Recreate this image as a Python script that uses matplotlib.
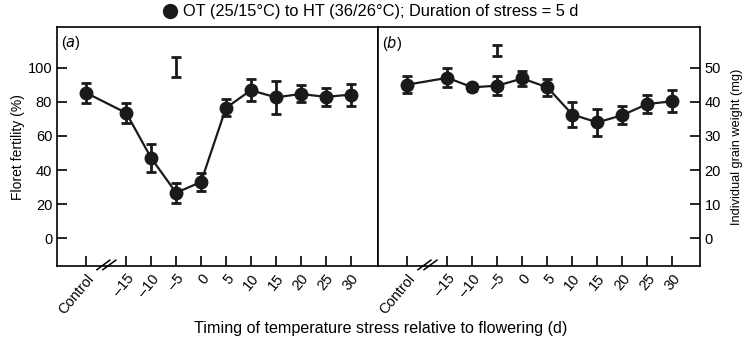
import numpy as np
import matplotlib.pyplot as plt
from matplotlib.lines import Line2D

plt.rcParams['font.family'] = ['Liberation Sans', 'DejaVu Sans']
plt.rcParams['font.size'] = 10.5

# x positions (days relative to flowering); control drawn left of axis break
x_pos = [-23, -15, -10, -5, 0, 5, 10, 15, 20, 25, 30]
x_labels = ['Control', '\u201315', '\u201310', '\u20135', '0', '5', '10', '15', '20', '25', '30']

# (a) floret fertility (%)
fert = [85.3, 73.5, 47, 26.6, 33, 76.5, 86.9, 82.7, 84.7, 83, 84.3]
fert_err = [6, 5.7, 8, 6, 5.5, 5, 6.5, 9.5, 5, 5.5, 6.5]
fert_lsd = (-5, 100.6, 6)

# (b) individual grain weight (mg)
gw = [45.1, 47.1, 44.3, 44.8, 46.9, 44.3, 36.3, 34, 36.1, 39.4, 40.2]
gw_err = [2.6, 2.8, 1, 2.7, 2.2, 2.4, 3.6, 3.9, 2.7, 2.7, 3.2]
gw_lsd = (-5, 55.1, 1.7)

fig = plt.figure(figsize=(7.5, 3.39), dpi=100)
axa = fig.add_axes([0.076, 0.215, 0.428, 0.705])
axb = fig.add_axes([0.504, 0.215, 0.429, 0.705])


def draw(ax, y, err, lsd, ylim, yticks, side, label):
    ax.errorbar(x_pos, y, yerr=err, color='#1a1a1a', marker='o', ms=9,
                lw=1.6, elinewidth=2, capsize=3.8, capthick=2)
    ax.errorbar([lsd[0]], [lsd[1]], yerr=[lsd[2]], color='#1a1a1a', fmt='none',
                elinewidth=2, capsize=3.8, capthick=2)
    ax.set_xlim(-28.9, 35.5)
    ax.set_ylim(*ylim)
    ax.set_yticks(yticks)
    ax.set_xticks(x_pos)
    ax.set_xticklabels(x_labels, rotation=50, ha='right', rotation_mode='anchor')
    ax.tick_params(axis='x', direction='in', length=7, width=1.2, pad=4)
    ax.tick_params(axis='y', direction='in', length=7, width=1.2,
                   left=(side == 'left'), labelleft=(side == 'left'),
                   right=(side == 'right'), labelright=(side == 'right'))
    for s in ax.spines.values():
        s.set_linewidth(1.2)
    # axis break marks
    tr = ax.get_xaxis_transform()
    for dx in (-0.6, 0.6):
        ax.plot([-20.3 + dx, -17.7 + dx], [-0.015, 0.025], color='k', lw=1.1,
                transform=tr, clip_on=False)
    ax.text(0.012, 0.97, '(' + r'$\it{' + label + '}$' + ')', transform=ax.transAxes,
            va='top', ha='left', fontsize=10.5)


draw(axa, fert, fert_err, fert_lsd, (-16.5, 124), [0, 20, 40, 60, 80, 100], 'left', 'a')
draw(axb, gw, gw_err, gw_lsd, (-8.25, 62), [0, 10, 20, 30, 40, 50], 'right', 'b')

axa.set_ylabel('Floret fertility (%)', fontsize=10, labelpad=2)
axb.set_ylabel('Individual grain weight (mg)', fontsize=9.2, labelpad=7)
axb.yaxis.set_label_position('right')

fig.text(0.507, 0.008, 'Timing of temperature stress relative to flowering (d)',
         ha='center', va='bottom', fontsize=11.6)

handle = Line2D([], [], marker='o', ls='none', color='#1a1a1a', ms=10)
fig.legend(handles=[handle], labels=['OT (25/15\u00b0C) to HT (36/26\u00b0C); Duration of stress = 5 d'],
           loc='center', bbox_to_anchor=(0.494, 0.965), frameon=False,
           handletextpad=0.3, fontsize=11.8, handlelength=1.0, borderpad=0)

fig.savefig('out.png', dpi=100)
